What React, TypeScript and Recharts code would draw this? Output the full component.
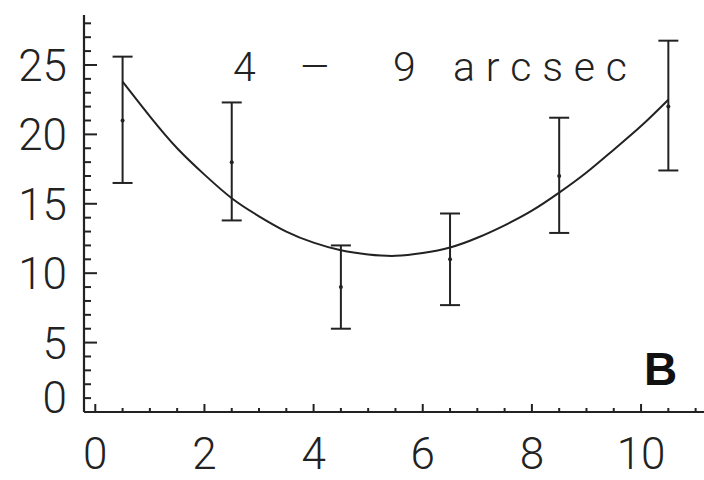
import { ComposedChart, Line, Scatter, ErrorBar, XAxis, YAxis } from 'recharts';

// measured points (offset bins) with their error bars
const pointX = [0.5, 2.5, 4.5, 6.5, 8.5, 10.5];
const pointY = [21, 18, 9, 11, 17, 22];
const pointUpper = [25.6, 22.3, 12.0, 14.3, 21.2, 26.75];
const pointLower = [16.5, 13.8, 6.0, 7.7, 12.9, 17.4];

// fitted curve
const curveX = [0.5, 1, 1.5, 2, 2.5, 3, 3.5, 4, 4.5, 5, 5.5, 6, 6.5, 7, 7.5, 8, 8.5, 9, 9.5, 10, 10.5];
const curveY = [23.8, 21.3, 19.0, 17.1, 15.4, 14.1, 13.0, 12.2, 11.65, 11.35, 11.25, 11.45, 11.85, 12.55, 13.45, 14.5, 15.8, 17.25, 18.9, 20.6, 22.5];

// ticks
const xTicks = [0, 0.5, 1, 1.5, 2, 2.5, 3, 3.5, 4, 4.5, 5, 5.5, 6, 6.5, 7, 7.5, 8, 8.5, 9, 9.5, 10, 10.5, 11];
const xLabels = [0, 2, 4, 6, 8, 10];
const yTicks = [0, 1, 2, 3, 4, 5, 6, 7, 8, 9, 10, 11, 12, 13, 14, 15, 16, 17, 18, 19, 20, 21, 22, 23, 24, 25, 26, 27, 28];
const yLabels = [0, 5, 10, 15, 20, 25];

const title = ['4', '\u2013', '9', 'arcsec'];
const panel = 'B';

const INK = '#222';
const FONT = 'Roboto, "Open Sans", sans-serif';

const points = pointX.map((x, i) => ({
    x,
    y: pointY[i],
    err: [pointY[i] - pointLower[i], pointUpper[i] - pointY[i]],
}));
const curve = curveX.map((x, i) => ({ x, y: curveY[i] }));

const BottomTick = (props: any) => {
    const { x, y, payload } = props;
    const major = xLabels.includes(payload.value);
    return (
        <g>
            <line x1={x} x2={x} y1={y} y2={y - (major ? 8 : 4)} stroke={INK} strokeWidth={2} />
            {major && (
                <text x={x} y={y + 57} textAnchor="middle" fontFamily={FONT} fontWeight={300} fontSize={44} fill={INK}>
                    {payload.value}
                </text>
            )}
        </g>
    );
};

const TopTick = (props: any) => {
    const { x, y, payload } = props;
    const major = xLabels.includes(payload.value);
    return <line x1={x} x2={x} y1={y} y2={y + (major ? 8 : 4)} stroke={INK} strokeWidth={2} />;
};

const LeftTick = (props: any) => {
    const { x, y, payload } = props;
    const major = yLabels.includes(payload.value);
    return (
        <g>
            <line x1={x} x2={x + (major ? 13 : 7)} y1={y} y2={y} stroke={INK} strokeWidth={2} />
            {major && (
                <text x={x - 17} y={payload.value === 0 ? y + 1 : y + 16} textAnchor="end" fontFamily={FONT} fontWeight={300} fontSize={44} fill={INK}>
                    {payload.value}
                </text>
            )}
        </g>
    );
};

const RightTick = (props: any) => {
    const { x, y, payload } = props;
    const major = yLabels.includes(payload.value);
    return <line x1={x} x2={x - (major ? 13 : 7)} y1={y} y2={y} stroke={INK} strokeWidth={2} />;
};

const Dot = (props: any) => <circle cx={props.cx} cy={props.cy} r={2} fill={INK} />;

export default function App() {
    const xDomain: [number, number] = [-0.207, 11.3];
    const yDomain: [number, number] = [0, 28.6];
    const axisLine = { stroke: INK, strokeWidth: 2.2 };
    return (
        <div style={{ position: 'absolute', left: 0, top: 0, width: 704, height: 480, overflow: 'hidden', background: '#fff' }}>
            <ComposedChart width={720} height={480} margin={{ top: 15, right: 8, bottom: 0, left: 0 }}>
                <XAxis
                    dataKey="x"
                    type="number"
                    domain={xDomain}
                    allowDataOverflow
                    ticks={xTicks}
                    interval={0}
                    height={68}
                    tickSize={0}
                    tickMargin={0}
                    tickLine={false}
                    axisLine={axisLine}
                    tick={<BottomTick />}
                />
                <XAxis
                    xAxisId="top"
                    orientation="top"
                    type="number"
                    domain={xDomain}
                    allowDataOverflow
                    ticks={xTicks}
                    interval={0}
                    height={0}
                    tickSize={0}
                    tickMargin={0}
                    tickLine={false}
                    axisLine={axisLine}
                    tick={<TopTick />}
                />
                <YAxis
                    dataKey="y"
                    type="number"
                    domain={yDomain}
                    allowDataOverflow
                    ticks={yTicks}
                    interval={0}
                    width={84}
                    tickSize={0}
                    tickMargin={0}
                    tickLine={false}
                    axisLine={axisLine}
                    tick={<LeftTick />}
                />
                <YAxis
                    yAxisId="right"
                    orientation="right"
                    type="number"
                    domain={yDomain}
                    allowDataOverflow
                    ticks={yTicks}
                    interval={0}
                    width={0}
                    tickSize={0}
                    tickMargin={0}
                    tickLine={false}
                    axisLine={axisLine}
                    tick={<RightTick />}
                />
                <Line
                    data={curve}
                    dataKey="y"
                    type="natural"
                    stroke={INK}
                    strokeWidth={2}
                    dot={false}
                    activeDot={false}
                    isAnimationActive={false}
                />
                <Scatter data={points} dataKey="y" shape={<Dot />} isAnimationActive={false}>
                    <ErrorBar dataKey="err" direction="y" width={10} stroke={INK} strokeWidth={2} />
                </Scatter>
            </ComposedChart>
            <svg width={704} height={480} style={{ position: 'absolute', left: 0, top: 0, pointerEvents: 'none' }}>
                <g fontFamily={FONT} fontWeight={300} fontSize={41} fill={INK}>
                    <text x={233} y={81}>{title[0]}</text>
                    <text x={299} y={81} textLength={32} lengthAdjust="spacingAndGlyphs">{title[1]}</text>
                    <text x={393} y={81}>{title[2]}</text>
                    <text x={453} y={81} textLength={174} lengthAdjust="spacing">{title[3]}</text>
                </g>
                <text x={644} y={385} fontFamily='"Liberation Sans", Arial, sans-serif' fontWeight={700} fontSize={46} fill="#111">
                    {panel}
                </text>
            </svg>
        </div>
    );
}
